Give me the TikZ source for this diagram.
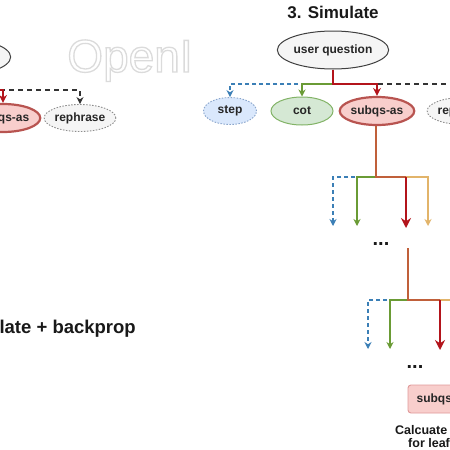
\documentclass[tikz,border=0pt]{standalone}
\usepackage{fontspec}
\setmainfont{Liberation Sans}
\usetikzlibrary{arrows.meta,shapes.geometric}
\definecolor{sqfill}{HTML}{F8CECC}
\definecolor{sqborder}{HTML}{B85450}
\definecolor{stepfill}{HTML}{DAE8FC}
\definecolor{stepborder}{HTML}{6C8EBF}
\definecolor{cotfill}{HTML}{D5E8D4}
\definecolor{cotborder}{HTML}{82B366}
\definecolor{blueline}{HTML}{3B7FB6}
\definecolor{greenline}{HTML}{6A9B35}
\definecolor{redline}{HTML}{B3141B}
\definecolor{brownline}{HTML}{C0603A}
\definecolor{orangeline}{HTML}{E2B46A}
\definecolor{boxborder}{HTML}{E09A9A}
\definecolor{uqfill}{HTML}{F5F5F5}
\newcommand{\outlinetext}[1]{\special{pdf:literal direct 1 Tr 1.3 w 0.86 0.86 0.86 RG}#1\special{pdf:literal direct 0 Tr}}
\tikzset{
  ell/.style={ellipse, inner sep=0pt, font=\fontsize{12}{14}\selectfont\bfseries, text=black!85},
  uqs/.style={ell, draw=black!75, fill=uqfill, line width=1pt, minimum width=97pt, minimum height=38pt},
  sqs/.style={ell, draw=sqborder, fill=sqfill, line width=2.2pt, minimum width=66pt, minimum height=28pt},
  stepnode/.style={ell, draw=stepborder!80, fill=stepfill, dash pattern=on 1.5pt off 1.5pt, line width=0.9pt, minimum width=53pt, minimum height=27pt},
  cotnode/.style={ell, draw=cotborder, fill=cotfill, line width=1pt, minimum width=62pt, minimum height=28pt},
  rephnode/.style={ell, draw=black!45, fill=uqfill, dash pattern=on 1.5pt off 1.5pt, line width=0.9pt, minimum width=70pt, minimum height=27pt},
  boxnode/.style={rectangle, rounded corners=3pt, draw=boxborder, fill=sqfill, line width=0.9pt, minimum width=70pt, minimum height=28pt, font=\fontsize{12}{14}\selectfont\bfseries, text=black!85},
  titletext/.style={font=\fontsize{17}{20}\selectfont\bfseries, text=black!90, inner sep=0pt},
  plaintext/.style={font=\fontsize{12.5}{14}\selectfont\bfseries, text=black!90, inner sep=0pt},
  dotstext/.style={font=\fontsize{20}{22}\selectfont\bfseries, text=black!90, inner sep=0pt},
  smalltip/.style={-{Stealth[length=7pt,width=7pt]}},
  bigtip/.style={-{Stealth[length=10pt,width=10pt]}},
  toptip/.style={-{Stealth[length=8pt,width=8pt]}},
  bluearr/.style={draw=blueline, line width=1.3pt, dash pattern=on 4pt off 3pt, smalltip},
  greenarr/.style={draw=greenline, line width=1.3pt, smalltip},
  orangearr/.style={draw=orangeline, line width=1.3pt, smalltip},
  blackdash/.style={draw=black!80, line width=1.3pt, dash pattern=on 5pt off 4pt, smalltip},
  redthick/.style={draw=redline, line width=2.6pt, bigtip},
  brownthick/.style={draw=brownline, line width=2.8pt},
}
\begin{document}
\begin{tikzpicture}[x=1pt,y=-1pt]
\useasboundingbox (0,0) rectangle (450,450);
\clip (0,0) rectangle (450,450);
\fill[white] (0,0) rectangle (450,450);

% watermark
\node[anchor=base, inner sep=0pt, font=\fontsize{46}{50}\selectfont] (wm) at (130,72) {\outlinetext{OpenI}};

% ---------- left panel (cut) ----------
\node[uqs] (uqL) at (-45,57) {user question};
\node[sqs] (sqL) at (3,118) {subqs-as};
\node[rephnode] (rpL) at (80,118) {rephrase};
\coordinate (jL) at (-45,90);
\draw[blackdash] (jL) -| (rpL.north);
\draw[redthick, toptip] (uqL.south) -- (jL) -| (sqL.north);
\node[titletext, anchor=base east, font=\fontsize{18.5}{20}\selectfont\bfseries] (t2) at (136,333) {2. Simulate + backprop};

% ---------- right panel ----------
\node[titletext] (t3) at (333,12) {3. Simulate};
\node[uqs] (uq) at (333,50) {user question};
\node[stepnode] (st) at (230,111) {step};
\node[cotnode] (cot) at (302,111) {cot};
\node[sqs] (sq) at (377,111) {subqs-as};
\node[rephnode] (rp) at (463,111) {rephrase};
\coordinate (j1) at (333,84);
\draw[blackdash] (j1) -| (rp.north);
\draw[bluearr] (j1) -| (st.north);
\draw[greenarr] (j1) -| (cot.north);
\draw[redthick, toptip] (uq.south) -- (j1) -| (sq.north);

% second level
\coordinate (j2) at (376,177);
\coordinate (k2) at (406,177);
\coordinate (a1) at (333,226);
\coordinate (a2) at (357,226);
\coordinate (a3) at (406,228);
\coordinate (a4) at (428,226);
\draw[bluearr] (j2) -| (a1);
\draw[greenarr] (j2) -| (a2);
\draw[orangearr] (j2) -| (a4);
\draw[brownthick] (sq.south -| j2) -- (j2) -- (k2);
\draw[redthick] (k2) -- (a3);
\node[dotstext] (d1) at (381,244) {...};

% third level
\coordinate (s3) at (408,248);
\coordinate (j3) at (408,300);
\coordinate (k3) at (440,300);
\coordinate (b1) at (368,349);
\coordinate (b2) at (390,349);
\coordinate (b3) at (440,350);
\coordinate (b4) at (470,349);
\draw[bluearr] (j3) -| (b1);
\draw[greenarr] (j3) -| (b2);
\draw[orangearr] (j3) -| (b4);
\draw[brownthick] (s3) -- (j3) -- (k3);
\draw[redthick] (k3) -- (b3);
\node[dotstext] (d2) at (415,367) {...};

% leaf
\node[boxnode] (leaf) at (443,399) {subqs-as};
\node[plaintext, anchor=base west] (c1) at (395,434) {Calcuate reward};
\node[plaintext, anchor=base west] (c2) at (408,447) {for leaf nodes};
\end{tikzpicture}
\end{document}
